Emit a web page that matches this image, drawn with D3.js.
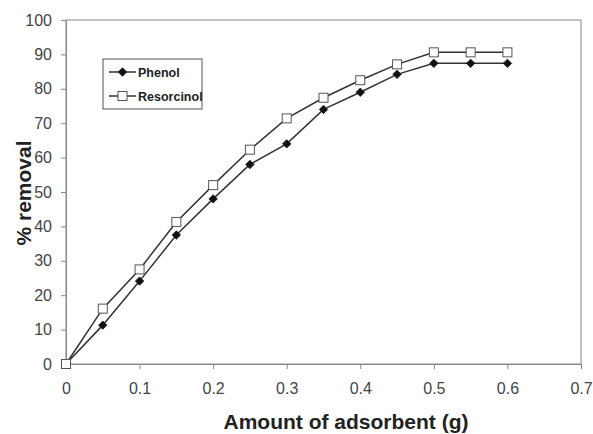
<!DOCTYPE html>
<html>
<head>
<meta charset="utf-8">
<script src="https://cdn.jsdelivr.net/npm/d3@7"></script>
<style>
  body { margin: 0; background: #fff; }
  svg { display: block; font-family: Arial, "Liberation Sans", sans-serif; }
</style>
</head>
<body>
<svg id="chart" width="593" height="434"></svg>
<script>
// adsorbent dose (g)
const dose = [0, 0.05, 0.1, 0.15, 0.2, 0.25, 0.3, 0.35, 0.4, 0.45, 0.5, 0.55, 0.6]
const phenol = [0, 11.3, 24.1, 37.5, 48, 58, 64, 74, 79, 84.2, 87.4, 87.4, 87.4]
const resorcinol = [0, 16.1, 27.5, 41.3, 52, 62.3, 71.4, 77.4, 82.5, 87.1, 90.6, 90.6, 90.6]
const xTicks = [0, 0.1, 0.2, 0.3, 0.4, 0.5, 0.6, 0.7]
const yTicks = [0, 10, 20, 30, 40, 50, 60, 70, 80, 90, 100]

const margin = { top: 20, right: 12, bottom: 70, left: 66 }
const svg = d3.select('#chart')
const width = 593 - margin.left - margin.right
const height = 434 - margin.top - margin.bottom

const x = d3.scaleLinear().domain([0, 0.7]).range([0, width])
const y = d3.scaleLinear().domain([0, 100]).range([height, 0])

const chart = svg.append('g')
	.attr('transform', `translate(${margin.left}, ${margin.top})`)

// plot frame
chart.append('rect')
	.attr('x', 0).attr('y', 0)
	.attr('width', width).attr('height', height)
	.attr('fill', 'none')
	.attr('stroke', '#888')
	.attr('stroke-width', 1)

const xAxis = chart.append('g')
	.attr('transform', `translate(0, ${height})`)
	.call(d3.axisBottom(x).tickValues(xTicks).tickSize(5).tickPadding(14)
		.tickFormat(d => d === 0 ? '0' : d3.format('.1f')(d)))
const yAxis = chart.append('g')
	.call(d3.axisLeft(y).tickValues(yTicks).tickSize(5).tickPadding(9))

;[xAxis, yAxis].forEach(a => {
	a.select('.domain').attr('stroke', '#888')
	a.selectAll('.tick line').attr('stroke', '#888')
	a.selectAll('.tick text')
		.attr('fill', '#444')
		.style('font-size', '16px')
		.style('font-family', 'Arial, "Liberation Sans", sans-serif')
})

const series = [
	{ name: 'Phenol', values: phenol, marker: 'diamond' },
	{ name: 'Resorcinol', values: resorcinol, marker: 'square' }
]

const line = d3.line()
	.x((d, i) => x(dose[i]))
	.y(d => y(d))

const diamond = d3.symbol().type(d3.symbolDiamond2).size(45)

function drawMarker(g, type) {
	if (type === 'diamond') {
		g.append('path')
			.attr('d', diamond())
			.attr('fill', '#111')
			.attr('stroke', '#111')
			.attr('stroke-width', 0.8)
	} else {
		g.append('rect')
			.attr('x', -4.5).attr('y', -4.5)
			.attr('width', 9).attr('height', 9)
			.attr('fill', '#fff')
			.attr('stroke', '#555')
			.attr('stroke-width', 1)
	}
}

series.forEach(s => {
	chart.append('path')
		.attr('d', line(s.values))
		.attr('fill', 'none')
		.attr('stroke', '#333')
		.attr('stroke-width', 1.5)
	s.values.forEach((v, i) => {
		const g = chart.append('g')
			.attr('transform', `translate(${x(dose[i])}, ${y(v)})`)
		drawMarker(g, s.marker)
	})
})

// legend
const legend = svg.append('g').attr('transform', 'translate(103, 59)')
legend.append('rect')
	.attr('width', 99).attr('height', 50)
	.attr('fill', '#fff')
	.attr('stroke', '#555')
	.attr('stroke-width', 1)
series.forEach((s, i) => {
	const row = legend.append('g').attr('transform', `translate(0, ${13 + i * 24})`)
	row.append('line')
		.attr('x1', 6).attr('x2', 33)
		.attr('stroke', '#333').attr('stroke-width', 1.5)
	const m = row.append('g').attr('transform', 'translate(19.5, 0)')
	drawMarker(m, s.marker)
	row.append('text')
		.attr('x', 35).attr('y', 4.5)
		.attr('fill', '#222')
		.style('font-size', '12.5px')
		.style('font-weight', 'bold')
		.text(s.name)
})

// axis titles
svg.append('text')
	.attr('x', 346).attr('y', 429)
	.attr('text-anchor', 'middle')
	.attr('fill', '#222')
	.style('font-size', '21px')
	.style('font-weight', 'bold')
	.text('Amount of adsorbent (g)')

svg.append('text')
	.attr('transform', 'translate(31, 193) rotate(-90)')
	.attr('text-anchor', 'middle')
	.attr('fill', '#222')
	.style('font-size', '21px')
	.style('font-weight', 'bold')
	.text('% removal')
</script>
</body>
</html>
